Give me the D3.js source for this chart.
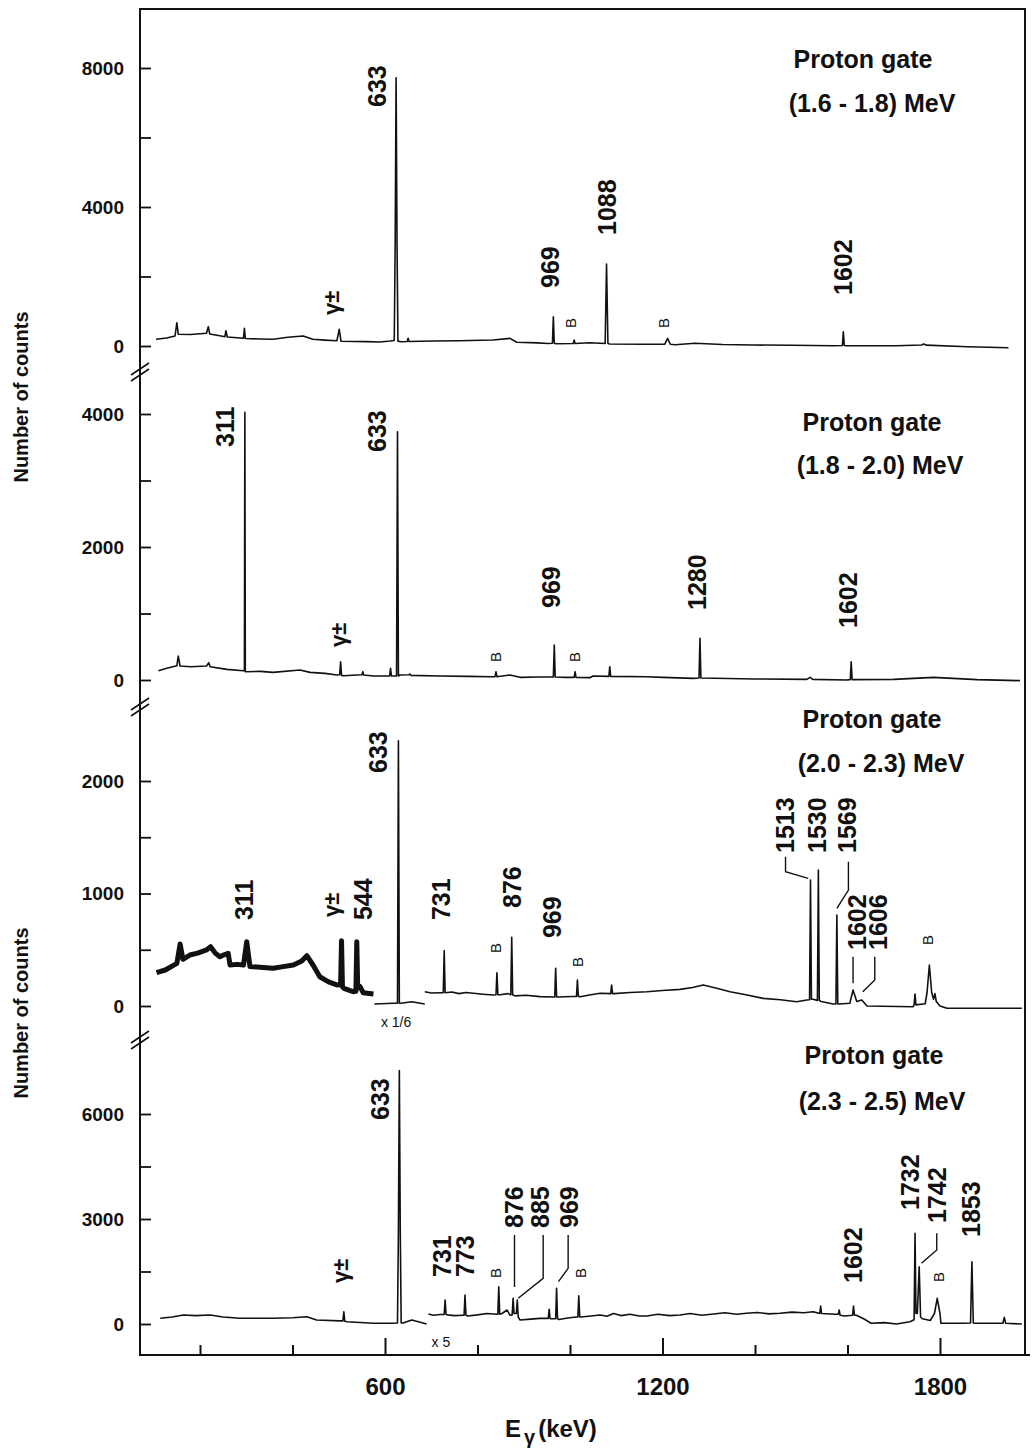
<!DOCTYPE html>
<html>
<head>
<meta charset="utf-8">
<script src="https://cdn.jsdelivr.net/npm/d3@7"></script>
<style>
body { margin: 0; background: #fff; }
svg text { font-family: "Liberation Sans", Arial, Helvetica, sans-serif; fill: #111; }
</style>
</head>
<body>
<script>
// energy axis (keV)
const xTicks = [200, 400, 600, 800, 1000, 1200, 1400, 1600, 1800];
const xLabels = [600, 1200, 1800];

// proton gates
const gates = ["(1.6 - 1.8) MeV", "(1.8 - 2.0) MeV", "(2.0 - 2.3) MeV", "(2.3 - 2.5) MeV"];

// y ticks and labelled ticks of each panel
const yTicks1 = [0, 2000, 4000, 6000, 8000], yLabels1 = [0, 4000, 8000];
const yTicks2 = [0, 1000, 2000, 3000, 4000], yLabels2 = [0, 2000, 4000];
const yTicks3 = [0, 500, 1000, 1500, 2000], yLabels3 = [0, 1000, 2000];
const yTicks4 = [0, 1500, 3000, 4500, 6000], yLabels4 = [0, 3000, 6000];

// spectra [E keV, counts]
const spec1 = [[105,193],[128,230],[146,288],[150,671],[153,337],[180,330],[214,365],[218,556],[221,345],[240,300],[254,268],[256,440],[259,259],[294,221],[296,509],[298,216],[330,200],[358,193],[390,250],[423,288],[444,193],[470,170],[496,153],[501,480],[505,135],[560,125],[589,115],[611,144],[620,160],[622,2950],[624,7720],[626,2950],[628,140],[635,124],[648,130],[650,221],[652,130],[704,144],[760,150],[834,173],[870,220],[885,106],[930,90],[952,72],[962,80],[964,843],[966,80],[970,66],[1007,70],[1009,173],[1011,72],[1043,95],[1076,70],[1079,2360],[1082,70],[1086,58],[1158,49],[1205,55],[1211,221],[1217,50],[1227,37],[1270,78],[1330,45],[1396,29],[1480,20],[1569,9],[1589,15],[1591,412],[1593,15],[1595,10],[1706,9],[1760,30],[1765,58],[1770,25],[1860,-20],[1948,-50]];

const spec2 = [[110,140],[130,180],[150,213],[153,360],[157,210],[180,200],[214,210],[219,260],[222,200],[258,160],[294,140],[296,140],[297,4026],[298,125],[330,130],[358,115],[416,150],[438,115],[470,100],[496,75],[502,80],[504,275],[506,70],[510,65],[550,80],[552,125],[554,75],[575,60],[610,60],[612,176],[614,60],[625,60],[627,3734],[629,60],[632,75],[652,80],[654,90],[656,70],[719,60],[780,55],[834,50],[838,50],[840,125],[842,50],[870,75],[892,40],[930,45],[964,45],[966,526],[968,45],[990,40],[1009,40],[1011,125],[1013,40],[1043,35],[1050,60],[1084,55],[1086,200],[1088,55],[1166,50],[1200,40],[1267,25],[1279,30],[1281,626],[1283,30],[1400,15],[1512,10],[1519,40],[1525,10],[1598,0],[1606,5],[1608,275],[1610,5],[1700,10],[1786,40],[1880,5],[1973,-10]];

const spec3a = [[106,296],[125,320],[150,379],[157,551],[163,415],[178,453],[195,470],[214,498],[223,527],[233,470],[243,438],[252,455],[261,468],[265,364],[280,370],[294,364],[301,572],[308,350],[330,345],[358,335],[380,350],[402,364],[420,400],[431,447],[445,360],[459,260],[478,215],[496,187],[504,190],[506,580],[508,170],[511,157],[531,127],[537,130],[539,572],[541,160],[546,172],[553,118],[575,107]];
const spec3b = [[577,18],[618,24],[627,24],[629,2358],[631,24],[634,24],[658,38],[686,18]];
const spec3c = [[686,127],[700,115],[719,118],[726,118],[728,492],[730,118],[745,125],[760,110],[775,120],[791,113],[812,105],[834,98],[840,100],[842,296],[844,100],[849,100],[866,110],[872,100],[874,610],[876,100],[881,90],[905,95],[935,83],[967,80],[969,335],[971,80],[974,80],[1004,85],[1014,85],[1016,231],[1018,85],[1022,83],[1045,100],[1065,113],[1088,110],[1090,187],[1092,110],[1095,110],[1130,120],[1166,127],[1200,138],[1238,148],[1265,165],[1288,187],[1315,160],[1346,127],[1380,100],[1418,68],[1455,55],[1490,38],[1512,53],[1518,55],[1520,1120],[1522,60],[1525,60],[1535,50],[1537,1209],[1539,50],[1543,40],[1569,18],[1575,18],[1577,809],[1579,18],[1582,18],[1605,25],[1612,142],[1620,40],[1631,53],[1642,0],[1742,-6],[1744,10],[1746,107],[1748,10],[1768,20],[1772,120],[1777,364],[1782,120],[1786,60],[1789,110],[1792,40],[1800,0],[1815,-20],[1977,-20]];

const spec4a = [[114,163],[140,200],[164,257],[190,240],[222,257],[250,200],[286,163],[358,163],[400,180],[431,209],[452,114],[503,90],[509,90],[511,351],[513,80],[518,66],[575,20],[617,20],[627,30],[629,2638],[631,7238],[633,2638],[635,30],[639,30],[658,114],[690,0]];
const spec4b = [[694,286],[705,250],[719,270],[728,270],[730,686],[732,270],[736,260],[750,240],[769,250],[771,250],[773,829],[775,250],[779,230],[800,260],[820,300],[842,280],[844,280],[846,1066],[848,280],[853,300],[864,400],[870,250],[875,260],[877,734],[879,300],[882,300],[884,300],[886,686],[888,200],[892,114],[915,140],[935,160],[953,160],[955,420],[957,150],[961,150],[969,150],[971,1020],[973,150],[976,130],[995,170],[1013,200],[1017,200],[1019,809],[1021,200],[1024,200],[1045,230],[1065,257],[1080,220],[1094,300],[1110,240],[1130,280],[1150,230],[1166,229],[1190,280],[1215,240],[1238,257],[1260,300],[1285,250],[1310,286],[1335,320],[1360,280],[1382,306],[1405,330],[1430,290],[1454,306],[1480,340],[1505,320],[1526,351],[1540,300],[1542,514],[1544,300],[1573,280],[1580,280],[1582,400],[1584,250],[1594,230],[1611,250],[1613,514],[1615,250],[1619,250],[1635,150],[1651,20],[1680,40],[1706,0],[1735,66],[1744,120],[1746,2590],[1748,300],[1751,300],[1755,1637],[1758,200],[1762,150],[1779,100],[1788,300],[1794,734],[1800,300],[1802,20],[1854,20],[1866,30],[1869,1780],[1872,30],[1876,20],[1936,20],[1939,191],[1942,20],[1977,0]];

// peak labels [text, E, counts at foot of the label]
const peaks1 = [["633",583,6878],["969",957,1669],["1088",1080,3194],["1602",1590,1468],["γ±",485,892],["B",1002,518],["B",1203,518]];
const peaks2 = [["311",254,3504],["633",583,3429],["γ±",500,496],["969",959,1083],["1280",1275,1053],["1602",1601,782],["B",838,271],["B",1009,271]];
const peaks3 = [["633",585,2071],["311",295,764],["γ±",485,791],["544",552,764],["731",721,764],["876",875,871],["969",961,604],["B",838,471],["B",1017,347],["B",1772,542],["1513",1465,1360],["1530",1534,1360],["1569",1599,1360],["1602",1621,498],["1606",1666,498]];
const peaks4 = [["633",589,5829],["γ±",503,1171],["731",723,1343],["773",773,1343],["B",838,1314],["B",1022,1314],["B",1796,1200],["876",879,2743],["885",935,2743],["969",998,2743],["1602",1612,1171],["1732",1735,3257],["1742",1793,2886],["1853",1867,2486]];

// leader lines from labels to peaks
const leaders3 = [[[1466,1327],[1466,1194],[1515,1135]],[[1602,1283],[1602,1031],[1577,868]],[[1612,438],[1612,202]],[[1659,438],[1659,231],[1633,127]]];
const leaders4 = [[[880,2543],[880,1057]],[[942,2543],[942,1306],[888,734]],[[996,2543],[996,1591],[975,1209]],[[1793,2591],[1793,2114],[1760,1734]]];

// scale notes [text, E, counts]
const notes3 = [["x 1/6",624,-142]];
const notes4 = [["x 5",721,-514]];

const W = 1033, H = 1453;
const axisX = 140, frameRight = 1025, axisY = 1355, frameTop = 9;

const svg = d3.select("body").append("svg")
    .attr("width", W)
    .attr("height", H);

const x = d3.scaleLinear().domain([200, 1800]).range([200, 940]);

const panels = [
    {range: [346, 68], domain: [0, 8000], ticks: yTicks1, labels: yLabels1, spectra: [[spec1, 1.6]], peaks: peaks1, leaders: [], notes: [], gate: gates[0], gx: [863, 872], gy: [68, 112], brk: 372},
    {range: [680, 414], domain: [0, 4000], ticks: yTicks2, labels: yLabels2, spectra: [[spec2, 1.6]], peaks: peaks2, leaders: [], notes: [], gate: gates[1], gx: [872, 880], gy: [431, 474], brk: 707},
    {range: [1006, 781], domain: [0, 2000], ticks: yTicks3, labels: yLabels3, spectra: [[spec3a, 5], [spec3b, 1.6], [spec3c, 1.6]], peaks: peaks3, leaders: leaders3, notes: notes3, gate: gates[2], gx: [872, 881], gy: [728, 772], brk: 1040},
    {range: [1324, 1114], domain: [0, 6000], ticks: yTicks4, labels: yLabels4, spectra: [[spec4a, 1.6], [spec4b, 1.6]], peaks: peaks4, leaders: leaders4, notes: notes4, gate: gates[3], gx: [874, 882], gy: [1064, 1110], brk: null}
];

panels.forEach((p, pi) => {
    const y = d3.scaleLinear().domain(p.domain).range(p.range);
    const g = svg.append("g");

    // inward ticks
    const tk = g.append("g")
        .attr("transform", `translate(${axisX},0)`)
        .call(d3.axisRight(y).tickValues(p.ticks).tickSize(11).tickFormat(""));
    tk.select(".domain").remove();
    tk.selectAll("line").attr("stroke", "#111").attr("stroke-width", 1.8);

    const lb = g.append("g")
        .attr("transform", `translate(${axisX},0)`)
        .call(d3.axisLeft(y).tickValues(p.labels).tickSize(0).tickPadding(16).tickFormat(d3.format("d")));
    lb.select(".domain").remove();
    lb.selectAll("text")
        .style("font-size", "19px")
        .style("font-weight", "bold")
        .attr("fill", "#111");

    // spectra
    const line = d3.line().x(d => x(d[0])).y(d => y(d[1]));
    p.spectra.forEach(([data, w]) => {
        g.append("path")
            .datum(data)
            .attr("d", line)
            .attr("fill", "none")
            .attr("stroke", "#111")
            .attr("stroke-width", w)
            .attr("stroke-linejoin", "round");
    });

    // leader lines
    g.selectAll(".leader")
        .data(p.leaders)
        .join("path")
        .attr("d", line)
        .attr("fill", "none")
        .attr("stroke", "#111")
        .attr("stroke-width", 1.4);

    // peak labels
    g.selectAll(".peak")
        .data(p.peaks)
        .join("text")
        .attr("transform", d => `translate(${x(d[1])},${y(d[2])}) rotate(-90)`)
        .attr("dominant-baseline", "central")
        .style("font-size", d => d[0] === "B" ? "15px" : (d[0] === "γ±" ? "22px" : "25px"))
        .style("font-weight", d => d[0] === "B" ? "normal" : "bold")
        .attr("fill", d => (pi === 2 && d[0] === "969") ? "#444" : "#111")
        .text(d => d[0]);

    g.selectAll(".note")
        .data(p.notes)
        .join("text")
        .attr("x", d => x(d[1]))
        .attr("y", d => y(d[2]))
        .attr("text-anchor", "middle")
        .attr("dominant-baseline", "central")
        .style("font-size", "14px")
        .text(d => d[0]);

    // gate text
    g.append("text")
        .attr("x", p.gx[0]).attr("y", p.gy[0])
        .attr("text-anchor", "middle")
        .style("font-size", "25px").style("font-weight", "bold")
        .text("Proton gate");
    g.append("text")
        .attr("x", p.gx[1]).attr("y", p.gy[1])
        .attr("text-anchor", "middle")
        .style("font-size", "25px").style("font-weight", "bold")
        .text(p.gate);

    // axis break
    if (p.brk) {
        [-3, 3].forEach(o => {
            g.append("line")
                .attr("x1", axisX - 9).attr("y1", p.brk + o + 6)
                .attr("x2", axisX + 9).attr("y2", p.brk + o - 6)
                .attr("stroke", "#111").attr("stroke-width", 1.6);
        });
    }
});

// frame and axes lines
svg.append("path")
    .attr("d", `M${axisX},${axisY + 1}V${frameTop}H${frameRight}V${axisY}`)
    .attr("fill", "none")
    .attr("stroke", "#111")
    .attr("stroke-width", 2);
svg.append("line")
    .attr("x1", axisX).attr("x2", 1030)
    .attr("y1", axisY).attr("y2", axisY)
    .attr("stroke", "#111").attr("stroke-width", 2);

// energy axis
const xt = svg.append("g")
    .attr("transform", `translate(0,${axisY})`)
    .call(d3.axisTop(x).tickValues(xTicks).tickSize(10).tickFormat(""));
xt.select(".domain").remove();
xt.selectAll(".tick line")
    .attr("stroke", "#111")
    .attr("stroke-width", 2)
    .attr("y2", d => xLabels.includes(d) ? -17 : -10);

const xl = svg.append("g")
    .attr("transform", `translate(0,${axisY})`)
    .call(d3.axisBottom(x).tickValues(xLabels).tickSize(0).tickPadding(23).tickFormat(d3.format("d")));
xl.select(".domain").remove();
xl.selectAll("text")
    .style("font-size", "24px")
    .style("font-weight", "bold")
    .attr("fill", "#111");

// axis titles
const et = svg.append("text")
    .attr("x", 505).attr("y", 1437)
    .style("font-size", "24px").style("font-weight", "bold");
et.append("tspan").text("E");
et.append("tspan").attr("dx", 3).attr("dy", 7).style("font-size", "20px").text("γ");
et.append("tspan").attr("dx", 3).attr("dy", -7).text("(keV)");

[397, 1013].forEach(cy => {
    svg.append("text")
        .attr("transform", `translate(28,${cy}) rotate(-90)`)
        .attr("text-anchor", "middle")
        .style("font-size", "20px")
        .style("font-weight", "bold")
        .text("Number of counts");
});
</script>
</body>
</html>
